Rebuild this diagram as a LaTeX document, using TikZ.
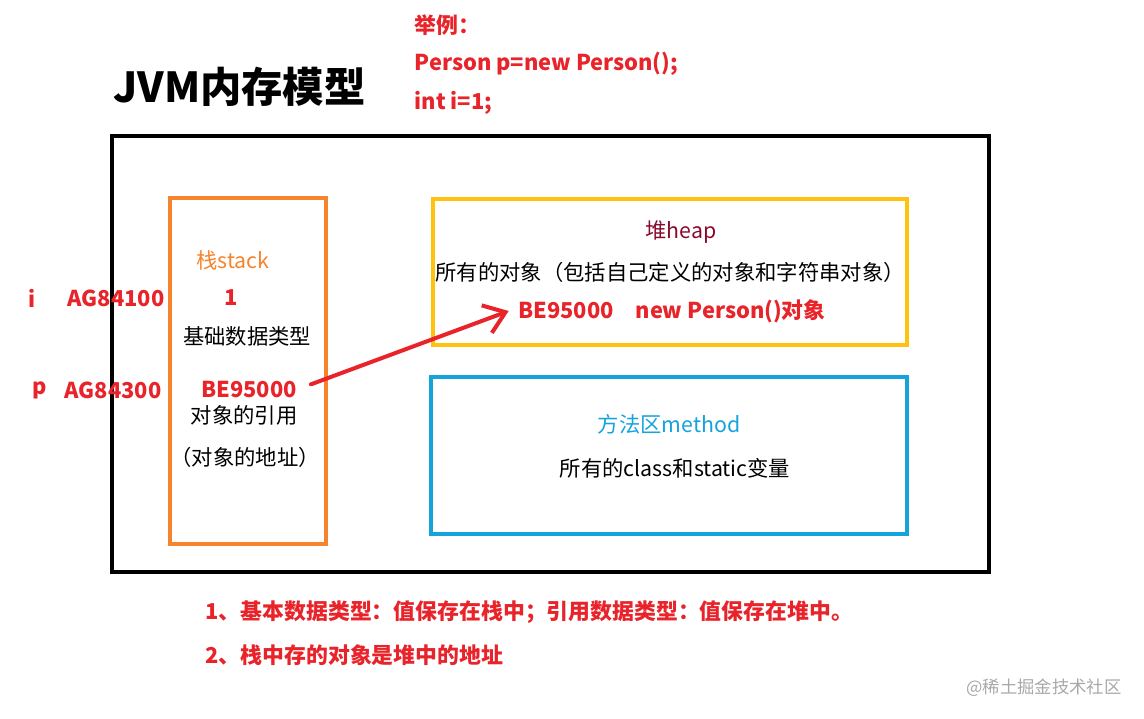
\documentclass[tikz,border=0pt]{standalone}
\usepackage{fontspec}
\setmainfont{Noto Sans CJK SC}
\usepackage{xcolor}
\usetikzlibrary{arrows.meta}
\definecolor{jvmred}{HTML}{E8232A}
\definecolor{stackorange}{HTML}{F5842C}
\definecolor{heapyellow}{HTML}{FFC20E}
\definecolor{methodblue}{HTML}{15A3DC}
\definecolor{heapdark}{HTML}{8A0A2C}
\definecolor{markgray}{HTML}{A8A8A8}
\tikzset{
  % plain black text inside the areas
  memtext/.style={font=\fontsize{16pt}{18pt}\selectfont, text=black, inner sep=1pt},
  % red bold values and notes
  redval/.style={font=\fontsize{16.4pt}{18pt}\selectfont\bfseries, text=jvmred, inner sep=1pt},
  % the coloured memory areas
  area/.style={line width=2.4pt},
  % reference arrow from the stack into the heap
  refarrow/.style={draw=jvmred, line width=3pt, line cap=round,
    -{Straight Barb[length=15pt,width=22pt,line width=3pt]}},
}
\begin{document}
\begin{tikzpicture}[x=0.75pt,y=-0.75pt]
\useasboundingbox (0,0) rectangle (1144,718);

% title and example code
\node[anchor=west, font=\fontsize{31pt}{35pt}\selectfont\bfseries, inner sep=0pt] (title) at (113,87) {JVM内存模型};
\node[redval, anchor=west] (ex) at (413,25) {举例：};
\node[redval, anchor=west] (exp) at (413,64) {Person p=new Person();};
\node[redval, anchor=west] (exi) at (413,103) {int i=1;};

% frames
\draw[line width=3pt] (112,136) rectangle (989,572);
\draw[area, draw=stackorange] (170,198) rectangle (326,544);
\draw[area, draw=heapyellow] (433,199) rectangle (907,345);
\draw[area, draw=methodblue] (431,377) rectangle (907,534);

% stack
\node[memtext, text=stackorange] (stack) at (233,260) {栈stack};
\node[redval] (ivar) at (32,298) {i};
\node[redval] (iaddr) at (116,298) {AG84100};
\node[redval] (ival) at (231,298) {1};
\node[memtext] (basic) at (247,336) {基础数据类型};
\node[redval] (pvar) at (40,390) {p};
\node[redval] (paddr) at (113,390) {AG84300};
\node[redval] (pref) at (249,389) {BE95000};
\node[memtext] (refname) at (244,415) {对象的引用};
\node[memtext] (refaddr) at (245,457) {（对象的地址）};

% heap
\node[memtext, text=heapdark] (heap) at (681,232) {堆heap};
\node[memtext] (heapall) at (670,272) {所有的对象（包括自己定义的对象和字符串对象）};
\node[redval] (heapobj) at (672,311) {BE95000\quad new Person()对象};

% method area
\node[memtext, text=methodblue] (method) at (669,424) {方法区method};
\node[memtext] (methodall) at (675,468) {所有的class和static变量};

% reference
\draw[refarrow, shorten <=10pt] (pref.east) -- ([xshift=-6pt]heapobj.west);

% notes
\node[redval, anchor=west] (note1) at (204,612) {1、基本数据类型：值保存在栈中；引用数据类型：值保存在堆中。};
\node[redval, anchor=west] (note2) at (204,655) {2、栈中存的对象是堆中的地址};
\node[font=\fontsize{13pt}{15pt}\selectfont, text=markgray] (mark) at (1044,688) {@稀土掘金技术社区};
\end{tikzpicture}
\end{document}
